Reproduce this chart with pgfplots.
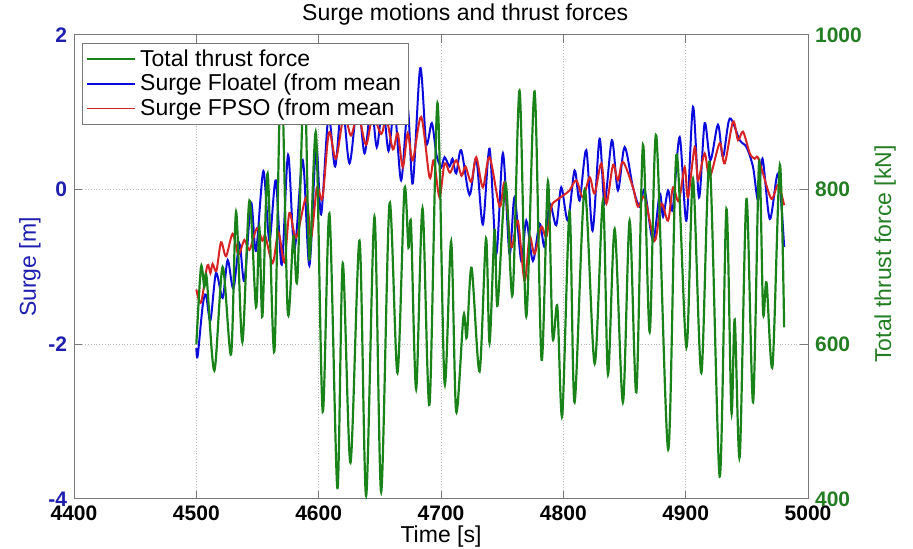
\documentclass[border=0pt]{standalone}
\usepackage{fontspec}
\setmainfont{Liberation Sans}
\usepackage{pgfplots}
\pgfplotsset{compat=1.18}
\definecolor{lgreen}{RGB}{25,130,25}
\definecolor{lblue}{RGB}{10,10,220}
\definecolor{lred}{RGB}{215,35,35}
\definecolor{tblue}{RGB}{30,30,175}
\definecolor{tgreen}{RGB}{35,125,35}
\definecolor{framegray}{RGB}{120,120,120}
\begin{document}
\begin{tikzpicture}
\useasboundingbox (-37pt,-25pt) rectangle (419.5pt,249.5pt);
\pgfplotsset{
  common/.style={
    width=367pt, height=232pt, scale only axis,
    at={(0pt,0pt)}, anchor=south west,
    xmin=4400, xmax=5000,
    font=\fontsize{11.5}{13}\selectfont,
    tick label style={font=\fontsize{10.5}{12}\selectfont\bfseries},
    /pgf/number format/assume math mode=true,
    tick align=inside, major tick length=4pt,
    axis line style={framegray, line width=0.5pt},
    every tick/.style={framegray, line width=0.5pt},
  }
}
\begin{axis}[common,
  ymin=-4, ymax=2,
  xtick={4400,4500,4600,4700,4800,4900,5000},
  xticklabels={4400,4500,4600,4700,4800,4900,5000},
  ytick={-4,-2,0,2},
  yticklabels={-4,-2,0,2},
  yticklabel style={text=tblue},
  xtick pos=both, ytick pos=left,
  grid=major, grid style={densely dotted, gray!55, line width=0.5pt},
  every axis title shift=0pt,
  title={Surge motions and thrust forces},
  title style={at={(axis description cs:0.533,1)}, anchor=base, yshift=7pt, font=\fontsize{11.5}{13}\selectfont},
  xlabel={Time [s]},
  xlabel style={at={(axis description cs:0.5,0)}, anchor=base, yshift=-21.8pt},
  ylabel={Surge [m]},
  ylabel style={at={(axis description cs:-0.06,0.5)}, anchor=center, text=tblue},
]
\addplot[lblue, line width=1pt, smooth, tension=0.5] coordinates {
(4500.0,-2.05) (4501.1,-2.15) (4505.2,-1.50) (4507.9,-1.36) (4511.5,-1.69) (4516.1,-1.08)
(4521.5,-1.40) (4525.6,-0.91) (4530.3,-1.28) (4535.2,-0.70) (4539.3,-1.18) (4544.7,-0.17)
(4548.8,-0.79) (4554.8,0.24) (4559.7,-0.66) (4564.9,0.12) (4569.8,-0.97) (4575.0,0.45)
(4580.2,-0.77) (4587.0,0.38) (4592.4,-0.98) (4597.9,0.57) (4602.0,-0.32) (4608.0,0.94)
(4613.5,0.30) (4619.1,1.15) (4625.2,0.34) (4632.0,1.15) (4637.5,0.47) (4643.0,1.12)
(4647.5,0.55) (4652.5,1.10) (4657.1,0.50) (4662.0,1.05) (4667.4,0.12) (4672.8,1.05)
(4676.9,0.08) (4683.0,1.57) (4687.9,0.60) (4692.5,0.86) (4696.3,0.45) (4700.2,0.29)
(4702.9,0.42) (4707.0,0.30) (4709.4,0.40) (4712.4,0.21) (4716.5,0.51) (4723.3,-0.07)
(4728.8,0.40) (4734.2,-0.45) (4739.7,0.53) (4745.2,-0.83) (4750.6,0.47) (4756.0,-0.83)
(4760.1,-0.10) (4765.6,-0.92) (4769.7,-0.40) (4775.1,-0.92) (4780.6,-0.44) (4784.7,-0.74)
(4788.8,-0.18) (4794.2,-0.46) (4798.3,0.03) (4803.7,-0.40) (4809.2,0.25) (4813.3,-0.14)
(4818.8,0.51) (4823.9,-0.53) (4829.6,0.66) (4833.7,-0.18) (4839.7,0.64) (4844.6,-0.01)
(4850.1,0.55) (4856.9,0.03) (4862.4,-0.22) (4866.5,-0.01) (4873.3,-0.66) (4878.8,-0.05)
(4881.5,-0.35) (4885.6,-0.01) (4889.4,-0.25) (4895.1,0.68) (4900.6,-0.40) (4906.0,1.07)
(4910.9,-0.10) (4915.5,0.86) (4920.2,0.38) (4926.4,0.84) (4930.5,0.42) (4936.0,0.92)
(4944.2,0.64) (4949.7,0.55) (4955.1,0.29) (4959.2,-0.14) (4962.8,0.40) (4968.8,-0.38)
(4975.6,0.21) (4980.5,-0.74)
};
\addplot[lred, line width=1pt, smooth, tension=0.5] coordinates {
(4500.0,-1.29) (4503.8,-1.46) (4509.0,-0.98) (4511.5,-1.08) (4513.3,-0.96) (4516.4,-1.05)
(4520.2,-0.68) (4524.3,-0.86) (4529.7,-0.57) (4534.4,-0.84) (4539.3,-0.65) (4543.4,-0.78)
(4549.5,-0.50) (4554.0,-0.66) (4556.4,-0.60) (4562.4,-0.95) (4567.1,-0.55) (4572.0,-0.94)
(4576.1,-0.30) (4581.6,-0.62) (4589.8,-0.10) (4593.8,-0.62) (4598.6,0.03) (4603.1,-0.11)
(4608.4,0.74) (4614.1,0.40) (4620.7,0.97) (4626.4,0.70) (4632.1,0.98) (4638.7,0.58)
(4644.2,0.95) (4651.1,0.72) (4655.4,0.92) (4660.7,0.52) (4664.6,0.73) (4668.8,0.29)
(4672.8,0.73) (4676.9,0.38) (4683.8,0.94) (4690.6,0.16) (4694.1,0.38) (4698.8,-0.10)
(4702.9,0.34) (4707.4,0.22) (4712.4,0.38) (4716.8,0.18) (4720.0,0.30) (4724.7,0.10)
(4728.8,0.42) (4734.2,0.03) (4739.7,0.42) (4747.9,-0.22) (4752.0,0.08) (4757.4,-0.74)
(4762.8,-0.40) (4768.3,-1.18) (4772.4,-0.61) (4776.5,-0.83) (4782.0,-0.48) (4786.1,-0.61)
(4790.2,-0.22) (4794.2,-0.14) (4799.4,-0.08) (4805.1,-0.01) (4810.6,0.12) (4816.0,-0.10)
(4821.5,0.16) (4825.6,-0.05) (4831.1,0.34) (4835.2,-0.18) (4840.6,0.32) (4844.6,0.12)
(4848.7,0.36) (4856.9,0.03) (4861.0,-0.22) (4866.5,-0.10) (4874.6,-0.66) (4880.1,-0.18)
(4885.6,-0.40) (4889.6,0.03) (4894.3,-0.15) (4899.2,0.29) (4901.9,-0.10) (4907.4,0.55)
(4910.1,0.12) (4915.5,0.47) (4919.6,0.16) (4927.8,0.60) (4931.9,0.34) (4938.7,0.88)
(4942.8,0.64) (4946.9,0.75) (4952.4,0.47) (4956.4,0.40) (4958.9,0.42) (4963.2,0.21)
(4970.1,-0.12) (4975.5,0.06) (4980.5,-0.20)
};
\end{axis}
\begin{axis}[common,
  ymin=400, ymax=1000,
  axis x line=none,
  axis y line*=right,
  ytick={400,600,800,1000},
  yticklabels={400,600,800,1000},
  yticklabel style={text=tgreen},
  ylabel={Total thrust force [kN]},
  ylabel style={at={(axis description cs:1.105,0.528)}, anchor=center, text=tgreen},
  legend style={at={(axis description cs:0.011,0.983)}, anchor=north west,
    draw=framegray, fill=white, line width=0.5pt,
    font=\fontsize{11.5}{12}\selectfont,
    row sep=-1.5pt, inner xsep=2pt, inner ysep=1pt},
  legend cell align=left,
  legend image code/.code={\draw[#1, line width=0.8pt] (0pt,0pt) -- (24pt,0pt);},
]
\addplot[lgreen, line width=1.1pt, smooth, tension=0.5] coordinates {
(4500.0,600) (4503.8,700) (4506.5,674) (4508.4,687) (4514.7,566) (4521.5,700)
(4528.4,587) (4532.5,771) (4537.6,603) (4543.4,786) (4548.8,648) (4551.5,752)
(4554.0,636) (4558.3,821) (4563.8,591) (4569.3,960) (4574.7,642) (4579.3,740)
(4582.6,685) (4588.3,950) (4592.4,710) (4597.9,872) (4603.3,513) (4608.8,769)
(4615.3,414) (4619.7,705) (4626.0,447) (4633.4,734) (4638.8,404) (4645.6,765)
(4651.1,409) (4657.9,782) (4664.4,563) (4670.1,800) (4673.4,725) (4675.5,755)
(4679.7,542) (4684.9,776) (4690.6,522) (4697.1,912) (4702.9,550) (4708.3,733)
(4712.4,513) (4718.4,637) (4721.1,609) (4725.0,699) (4731.5,565) (4736.8,737)
(4739.7,602) (4743.8,748) (4746.2,650) (4752.8,808) (4758.5,664) (4764.2,928)
(4769.7,636) (4776.5,927) (4782.2,580) (4787.4,811) (4791.2,610) (4795.1,649)
(4799.1,508) (4805.1,772) (4809.2,525) (4817.4,800) (4825.6,575) (4832.4,786)
(4836.5,561) (4842.0,749) (4848.7,525) (4854.2,760) (4859.7,538) (4865.1,858)
(4870.6,616) (4876.0,870) (4885.7,464) (4892.4,845) (4900.6,596) (4906.0,814)
(4912.8,563) (4919.6,836) (4927.8,429) (4933.3,775) (4937.4,512) (4940.1,632)
(4944.2,455) (4949.7,788) (4955.1,525) (4960.0,836) (4963.3,641) (4966.1,680)
(4971.0,572) (4977.0,832) (4980.5,622)
};
\addlegendentry{Total thrust force}
\addlegendimage{lblue}
\addlegendentry{Surge Floatel (from mean}
\addlegendimage{lred}
\addlegendentry{Surge FPSO (from mean}
\end{axis}
\end{tikzpicture}
\end{document}
